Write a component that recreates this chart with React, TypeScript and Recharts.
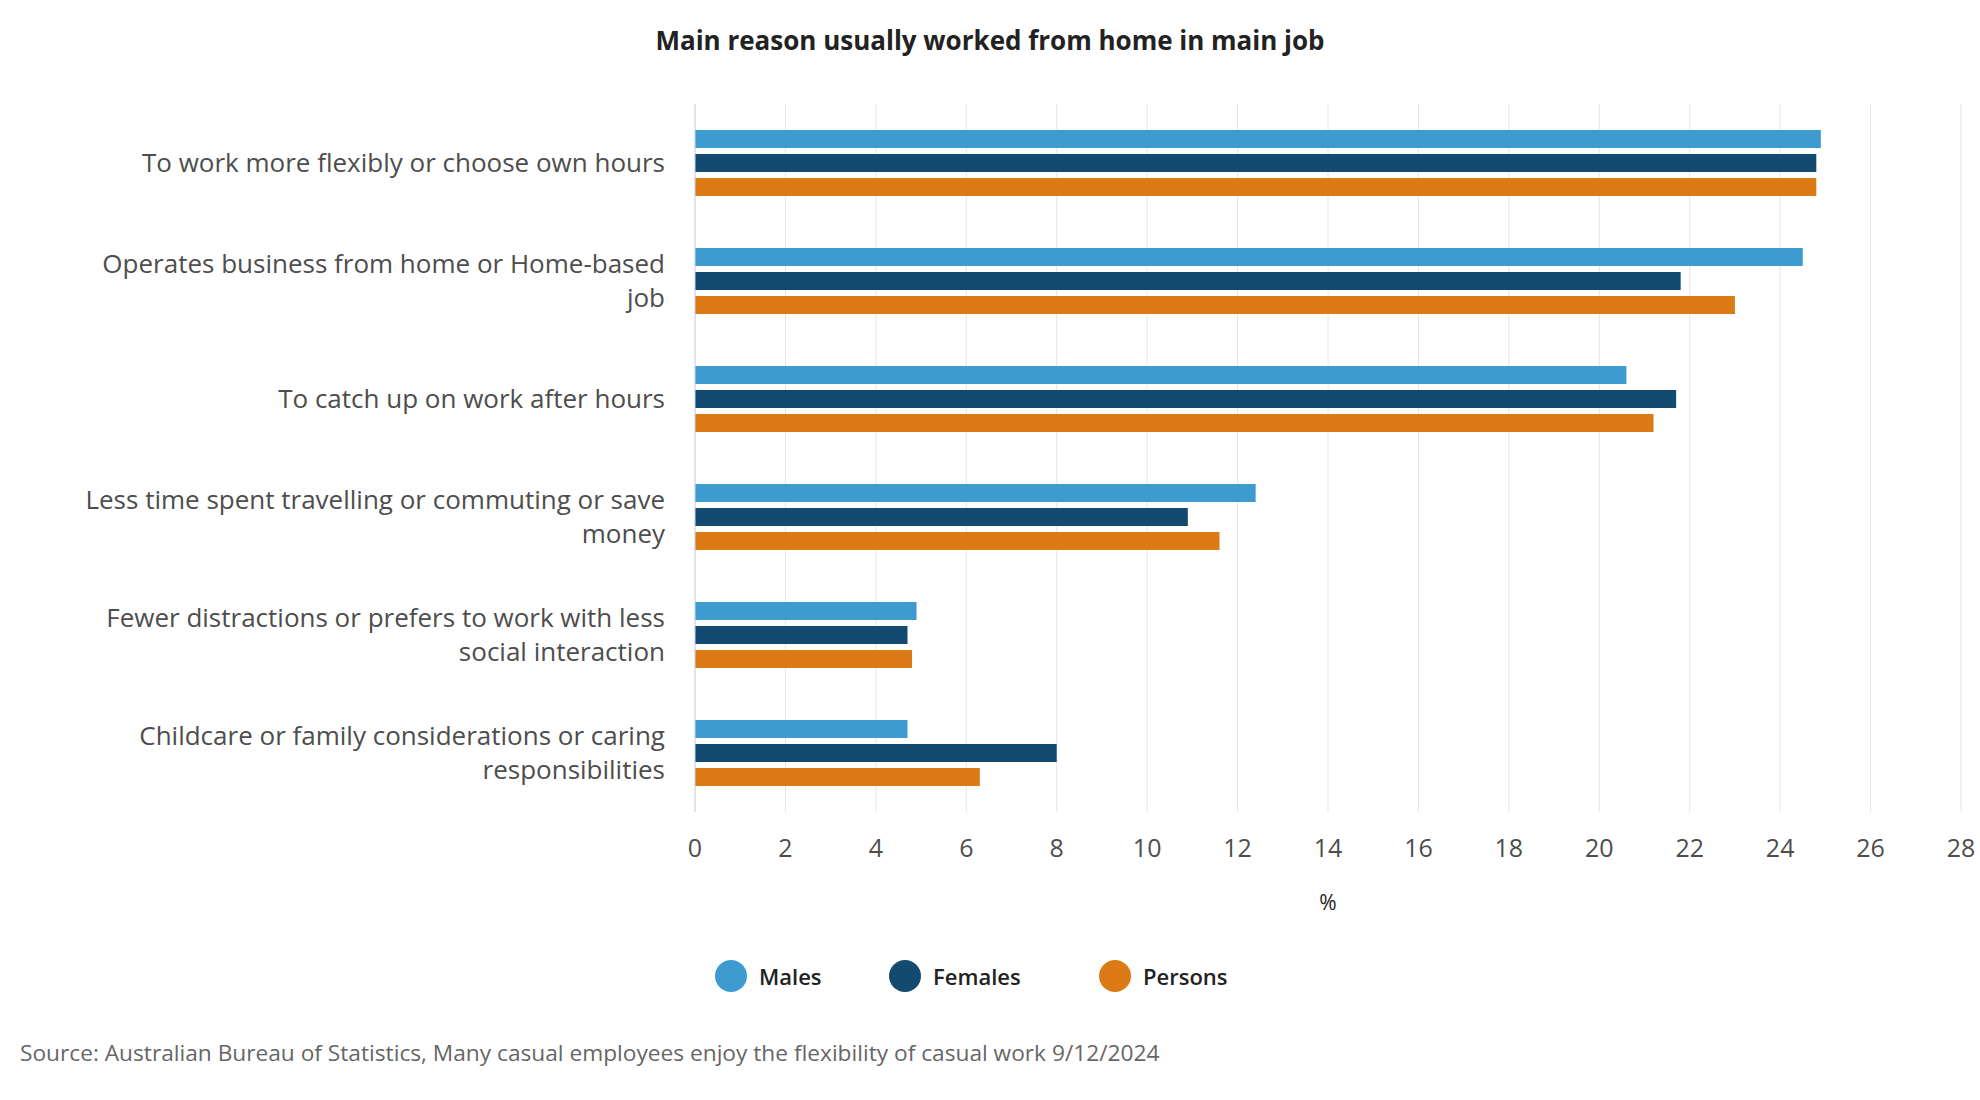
import React from "react";
import { BarChart, Bar, XAxis, YAxis, CartesianGrid, Label } from "recharts";

const categories = [
  "To work more flexibly or choose own hours",
  "Operates business from home or Home-based job",
  "To catch up on work after hours",
  "Less time spent travelling or commuting or save money",
  "Fewer distractions or prefers to work with less social interaction",
  "Childcare or family considerations or caring responsibilities",
];
const males = [24.9, 24.5, 20.6, 12.4, 4.9, 4.7];
const females = [24.8, 21.8, 21.7, 10.9, 4.7, 8.0];
const persons = [24.8, 23.0, 21.2, 11.6, 4.8, 6.3];
const xTicks = [0, 2, 4, 6, 8, 10, 12, 14, 16, 18, 20, 22, 24, 26, 28];

const seriesNames = ["Males", "Females", "Persons"];
const colors = ["#3e9bcf", "#134a6f", "#dc7a15"];

const data = categories.map((name, i) => ({
  name,
  Males: males[i],
  Females: females[i],
  Persons: persons[i],
}));

const FONT = "'Open Sans', 'Noto Sans', sans-serif";
const LABEL_SIZE = 26;

// split a label into lines that fit maxWidth, measured with a canvas
let ctx: CanvasRenderingContext2D | null = null;
const wrap = (text: string, maxWidth: number) => {
  if (!ctx) ctx = document.createElement("canvas").getContext("2d");
  ctx!.font = `${LABEL_SIZE}px 'Open Sans'`;
  const words = text.split(" ");
  const lines: string[] = [];
  let cur = "";
  words.forEach((w) => {
    const test = cur ? cur + " " + w : w;
    if (cur && ctx!.measureText(test).width > maxWidth) {
      lines.push(cur);
      cur = w;
    } else {
      cur = test;
    }
  });
  if (cur) lines.push(cur);
  return lines;
};

const CategoryTick = (props: any) => {
  const { x, y, payload } = props;
  const lines = wrap(payload.value, 605);
  const lh = 34;
  const start = y - ((lines.length - 1) * lh) / 2;
  return (
    <text x={x} y={start} textAnchor="end" fontSize={LABEL_SIZE} fill="#4d4d4d" fontFamily={FONT}>
      {lines.map((l, i) => (
        <tspan key={i} x={x} y={start + i * lh} dy="0.35em">
          {l}
        </tspan>
      ))}
    </text>
  );
};

const legendWidths = [174, 210, 160];

const App = () => {
  return (
    <div style={{ position: "absolute", left: 0, top: 0, width: 1980, height: 1100, background: "#fff", fontFamily: FONT }}>
      <div
        style={{
          position: "absolute",
          top: 22,
          left: 0,
          width: 1980,
          textAlign: "center",
          fontSize: 26,
          fontWeight: 700,
          color: "#222",
        }}
      >
        Main reason usually worked from home in main job
      </div>
      <BarChart
        width={1980}
        height={1100}
        data={data}
        layout="vertical"
        margin={{ top: 104, right: 19, left: 15, bottom: 178 }}
        barSize={18}
        barGap={6}
      >
        <CartesianGrid horizontal={false} stroke="#e6e6e6" />
        <XAxis
          type="number"
          domain={[0, 28]}
          ticks={xTicks}
          interval={0}
          axisLine={false}
          tickLine={false}
          tickMargin={21}
          height={110}
          tick={{ fontSize: 25, fill: "#4d4d4d", fontFamily: FONT }}
        >
          <Label
            content={(p: any) => {
              const vb = p.viewBox;
              return (
                <text
                  x={vb.x + vb.width / 2}
                  y={vb.y + 92}
                  textAnchor="middle"
                  dominantBaseline="middle"
                  fontSize={21}
                  fill="#222"
                  fontFamily={FONT}
                >
                  %
                </text>
              );
            }}
          />
        </XAxis>
        <YAxis
          type="category"
          dataKey="name"
          width={680}
          axisLine={{ stroke: "#ccd6eb" }}
          tickLine={false}
          tickMargin={24}
          tick={<CategoryTick />}
        />
        {seriesNames.map((s, i) => (
          <Bar key={s} dataKey={s} fill={colors[i]} isAnimationActive={false} />
        ))}
      </BarChart>
      <div style={{ position: "absolute", top: 960, left: 715, display: "flex", alignItems: "center" }}>
        {seriesNames.map((s, i) => (
          <div key={s} style={{ width: legendWidths[i], display: "flex", alignItems: "center" }}>
            <span
              style={{
                display: "inline-block",
                width: 32,
                height: 32,
                borderRadius: 16,
                background: colors[i],
                marginRight: 12,
              }}
            />
            <span style={{ fontSize: 22, fontWeight: 600, color: "#222" }}>{s}</span>
          </div>
        ))}
      </div>
      <div
        style={{
          position: "absolute",
          top: 1037,
          left: 20,
          fontSize: 22.7,
          color: "#666",
        }}
      >
        Source: Australian Bureau of Statistics, Many casual employees enjoy the flexibility of casual work 9/12/2024
      </div>
    </div>
  );
};

export default App;
